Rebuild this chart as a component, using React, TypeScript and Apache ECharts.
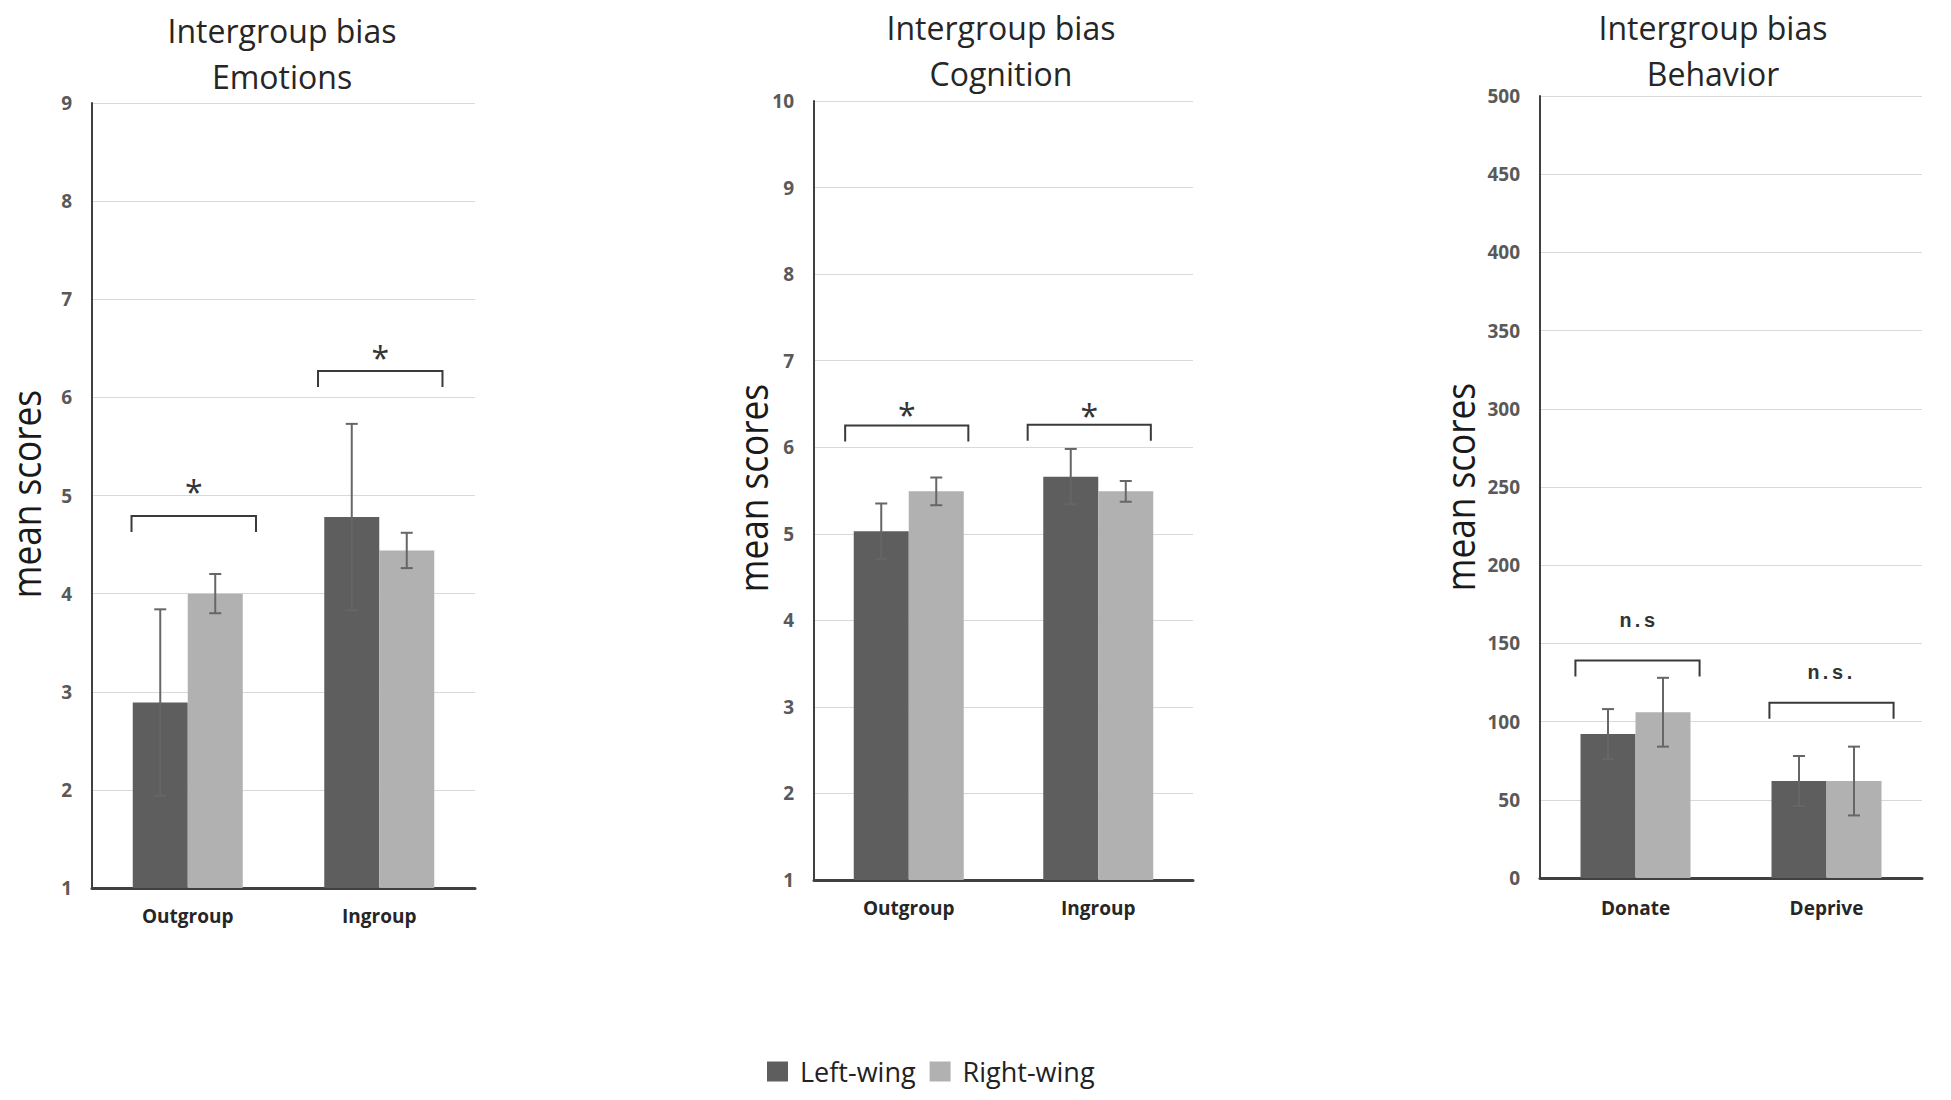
import React, { useEffect, useRef } from "react";
import * as echarts from "echarts";

// ---------- data ----------
const titleLine = "Intergroup bias";
const panelTitles = ["Emotions", "Cognition", "Behavior"];
const seriesNames = ["Left-wing", "Right-wing"];

const emoCategories = ["Outgroup", "Ingroup"];
const emoLeft = [2.89, 4.78];
const emoRight = [4.0, 4.44];
const emoLeftErr = [0.95, 0.95];
const emoRightErr = [0.2, 0.18];
const emoBracket = [4.79, 6.27];
const emoMarks = ["*", "*"];
const emoMarkY = [5.11, 6.48];

const cogCategories = ["Outgroup", "Ingroup"];
const cogLeft = [5.03, 5.66];
const cogRight = [5.49, 5.49];
const cogLeftErr = [0.32, 0.32];
const cogRightErr = [0.16, 0.12];
const cogBracket = [6.25, 6.26];
const cogMarks = ["*", "*"];
const cogMarkY = [6.46, 6.45];

const behCategories = ["Donate", "Deprive"];
const behLeft = [92, 62];
const behRight = [106, 62];
const behLeftErr = [16, 16];
const behRightErr = [22, 22];
const behBracket = [139, 112];
const behMarks = ["n.s", "n.s."];
const behMarkY = [164, 131];

const yMins = [1, 1, 0];
const yMaxs = [9, 10, 500];
const yIntervals = [1, 1, 50];

// ---------- style / layout ----------
const DARK = "#5e5e5e";
const LIGHT = "#b1b1b1";
const BAR_W = 55;
const CAP = 6;
const TICK = 16;
const BRACKET_HALF = 0.325;

const grids = [
  { left: 92, top: 103, width: 383, height: 785 },
  { left: 814, top: 101, width: 379, height: 779 },
  { left: 1540, top: 96, width: 382, height: 782 },
];
const titleCenters = [282, 1001, 1713];
const titleTops = [7, 4, 4];
const yNameX = [26, 753, 1460];
const yNameY = [494, 488, 487];
const xLabelMargins = [18, 18, 20];
// small horizontal nudges (px) of the significance brackets relative to category centres
const bracketShiftPx = [
  [6, 1],
  [-2, -9],
  [2, 5],
];

const panels = [
  { cats: emoCategories, left: emoLeft, right: emoRight, le: emoLeftErr, re: emoRightErr, br: emoBracket, marks: emoMarks, my: emoMarkY },
  { cats: cogCategories, left: cogLeft, right: cogRight, le: cogLeftErr, re: cogRightErr, br: cogBracket, marks: cogMarks, my: cogMarkY },
  { cats: behCategories, left: behLeft, right: behRight, le: behLeftErr, re: behRightErr, br: behBracket, marks: behMarks, my: behMarkY },
];

function buildOption() {
  const series: any[] = [];
  panels.forEach((p, k) => {
    series.push({
      type: "bar", name: seriesNames[0], xAxisIndex: k, yAxisIndex: k,
      data: p.left, barWidth: BAR_W, barGap: "0%", itemStyle: { color: DARK },
    });
    series.push({
      type: "bar", name: seriesNames[1], xAxisIndex: k, yAxisIndex: k,
      data: p.right, barWidth: BAR_W, barGap: "0%", itemStyle: { color: LIGHT },
    });
    const errData: any[] = [];
    p.left.forEach((v, i) => errData.push([i, v, p.le[i], -1]));
    p.right.forEach((v, i) => errData.push([i, v, p.re[i], 1]));
    series.push({
      type: "custom", xAxisIndex: k, yAxisIndex: k, z: 5, silent: true,
      data: errData,
      renderItem: (params: any, api: any) => {
        const i = api.value(0), v = api.value(1), e = api.value(2), side = api.value(3);
        const top = api.coord([i, v + e]);
        const bot = api.coord([i, v - e]);
        const x = top[0] + (side * BAR_W) / 2;
        const st = { stroke: "#666", lineWidth: 2 };
        return {
          type: "group",
          children: [
            { type: "line", shape: { x1: x, y1: top[1], x2: x, y2: bot[1] }, style: st },
            { type: "line", shape: { x1: x - CAP, y1: top[1], x2: x + CAP, y2: top[1] }, style: st },
            { type: "line", shape: { x1: x - CAP, y1: bot[1], x2: x + CAP, y2: bot[1] }, style: st },
          ],
        };
      },
    });
    series.push({
      type: "custom", xAxisIndex: k, yAxisIndex: k, z: 5, silent: true,
      data: p.br.map((b, i) => [i, b, p.my[i]]),
      renderItem: (params: any, api: any) => {
        const i = api.value(0), b = api.value(1), m = api.value(2);
        const shift = bracketShiftPx[k][params.dataIndex];
        const c = api.coord([i, b]);
        const mc = api.coord([i, m]);
        const cx = c[0] + shift;
        const half = api.size([1, 0])[0] * BRACKET_HALF;
        const label = p.marks[params.dataIndex];
        const isStar = label === "*";
        return {
          type: "group",
          children: [
            {
              type: "polyline",
              shape: { points: [[cx - half, c[1] + TICK], [cx - half, c[1]], [cx + half, c[1]], [cx + half, c[1] + TICK]] },
              style: { stroke: "#3a3a3a", lineWidth: 2, fill: null },
            },
            {
              type: "text",
              x: mc[0] + shift,
              y: mc[1] + (isStar ? 7 : 0),
              style: {
                text: label, align: "center", verticalAlign: "middle",
                font: isStar ? '32px "Open Sans"' : 'bold 20px "Liberation Mono"',
                fill: "#333",
              },
            },
          ],
        };
      },
    });
  });

  return {
    animation: false,
    backgroundColor: "#ffffff",
    title: panelTitles.map((t, k) => ({
      text: titleLine + "\n" + t,
      left: titleCenters[k],
      top: titleTops[k],
      padding: 0,
      textAlign: "center",
      textStyle: { fontFamily: "Open Sans", fontWeight: "normal", fontSize: 32, lineHeight: 46, color: "#262626" },
    })),
    legend: {
      data: seriesNames,
      left: 767,
      top: 1058,
      padding: 0,
      icon: "rect",
      itemWidth: 21,
      itemHeight: 20,
      itemGap: 14,
      textStyle: { fontFamily: "Open Sans", fontSize: 27, color: "#222", padding: [0, 0, 0, 7] },
    },
    grid: grids,
    xAxis: panels.map((p, k) => ({
      type: "category", gridIndex: k, data: p.cats,
      axisTick: { show: false },
      axisLine: { lineStyle: { color: "#404040", width: 3 } },
      axisLabel: { fontFamily: "Open Sans", fontWeight: "bold", fontSize: 19, color: "#262626", margin: xLabelMargins[k] },
    })),
    yAxis: panels.map((p, k) => ({
      type: "value", gridIndex: k, min: yMins[k], max: yMaxs[k], interval: yIntervals[k],
      axisLine: { show: true, lineStyle: { color: "#404040", width: 2 } },
      axisTick: { show: false },
      splitLine: { lineStyle: { color: "#d9d9d9", width: 1 } },
      axisLabel: { fontFamily: "Open Sans", fontWeight: "bold", fontSize: 19, color: "#595959", margin: 20 },
    })),
    graphic: yNameX.map((x, k) => ({
      type: "text",
      x,
      y: yNameY[k],
      rotation: Math.PI / 2,
      scaleX: 0.88,
      style: { text: "mean scores", font: '40px "Open Sans"', fill: "#1a1a1a", align: "center", verticalAlign: "middle" },
    })),
    series,
  };
}

export default function App() {
  const ref = useRef<HTMLDivElement>(null);
  useEffect(() => {
    const chart = echarts.init(ref.current!, null, { renderer: "svg" });
    chart.setOption(buildOption() as any);
    return () => chart.dispose();
  }, []);
  return (
    <div
      ref={ref}
      style={{ position: "fixed", left: 0, top: 0, width: 1951, height: 1100, background: "#fff" }}
    />
  );
}
